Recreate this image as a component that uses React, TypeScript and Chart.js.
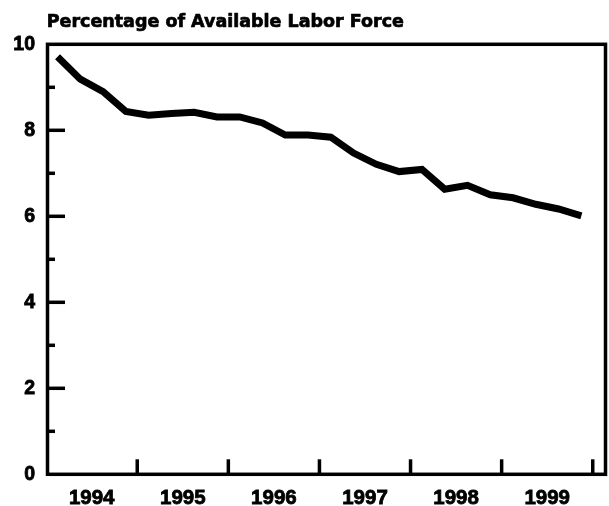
import React, { useEffect, useRef } from "react";
import { Chart, registerables } from "chart.js";

Chart.register(...registerables);

const TITLE = "Percentage of Available Labor Force";
const YEARS = ["1994", "1995", "1996", "1997", "1998", "1999"];
const QUARTERS = ["Q1", "Q2", "Q3", "Q4"];
const VALUES_1994 = [9.71, 9.19, 8.9, 8.44];
const VALUES_1995 = [8.35, 8.39, 8.42, 8.31];
const VALUES_1996 = [8.31, 8.17, 7.89, 7.89];
const VALUES_1997 = [7.84, 7.47, 7.21, 7.04];
const VALUES_1998 = [7.09, 6.63, 6.72, 6.5];
const VALUES_1999 = [6.43, 6.28, 6.17, 6.01];
const SERIES = [VALUES_1994, VALUES_1995, VALUES_1996, VALUES_1997, VALUES_1998, VALUES_1999];
const Y_TICK_LABELS = ["0", "2", "4", "6", "8", "10"];

const FONT = "'Liberation Sans', Arial, Helvetica, sans-serif";
const TITLE_FONT = "bold 17.5px 'DejaVu Sans', sans-serif";

export default function App() {
  const ref = useRef<HTMLCanvasElement | null>(null);

  useEffect(() => {
    if (!ref.current) return;
    const points: { x: number; y: number }[] = [];
    YEARS.forEach((_, yi) => {
      QUARTERS.forEach((_, qi) => {
        points.push({ x: yi + (qi + 0.5) / QUARTERS.length, y: SERIES[yi][qi] });
      });
    });

    const framePlugin = {
      id: "frame",
      beforeDatasetsDraw(chart: any) {
        const { ctx, chartArea } = chart;
        const { left, right, top, bottom } = chartArea;
        const xs = chart.scales.x;
        const ys = chart.scales.y;
        ctx.save();
        ctx.strokeStyle = "#000";
        ctx.lineWidth = 3.5;
        ctx.lineCap = "butt";
        ctx.strokeRect(left, top, right - left, bottom - top);
        ys.ticks.forEach((t: any) => {
          if (t.value <= ys.min || t.value >= ys.max) return;
          const py = ys.getPixelForValue(t.value);
          const major = Y_TICK_LABELS.includes(String(t.value));
          ctx.beginPath();
          ctx.moveTo(left, py);
          ctx.lineTo(left + (major ? 17.5 : 7.5), py);
          ctx.stroke();
        });
        for (let i = 1; i <= YEARS.length; i++) {
          if (i >= xs.max) continue;
          const px = xs.getPixelForValue(i);
          ctx.beginPath();
          ctx.moveTo(px, bottom);
          ctx.lineTo(px, bottom - 15);
          ctx.stroke();
        }
        ctx.restore();
      },
      afterDraw(chart: any) {
        const { ctx, chartArea } = chart;
        ctx.save();
        ctx.fillStyle = "#000";
        ctx.strokeStyle = "#000";
        ctx.lineWidth = 0.7;
        ctx.lineJoin = "round";
        ctx.font = TITLE_FONT;
        ctx.textAlign = "left";
        ctx.textBaseline = "alphabetic";
        ctx.fillText(TITLE, chartArea.left - 0.8, 26.7);
        ctx.strokeText(TITLE, chartArea.left - 0.8, 26.7);
        ctx.restore();
      },
    };

    const chart = new Chart(ref.current, {
      type: "line",
      data: {
        datasets: [
          {
            label: TITLE,
            data: points,
            borderColor: "#000",
            borderWidth: 7,
            pointRadius: 0,
            tension: 0,
            fill: false,
            borderCapStyle: "butt",
            borderJoinStyle: "miter",
          },
        ],
      },
      options: {
        animation: false,
        responsive: true,
        maintainAspectRatio: false,
        layout: { padding: { top: 44.3, right: 1, left: 0, bottom: 0 } },
        plugins: {
          legend: { display: false },
          tooltip: { enabled: false },
          title: { display: false },
        },
        scales: {
          x: {
            type: "linear",
            position: "bottom",
            min: 0.015,
            max: 6.14,
            grid: { display: false },
            border: { display: false },
            afterBuildTicks: (scale: any) => {
              scale.ticks = YEARS.map((_, i) => ({ value: i + 0.5 }));
            },
            afterFit: (scale: any) => {
              scale.height = 31.7;
            },
            ticks: {
              autoSkip: false,
              maxRotation: 0,
              padding: 4,
              color: "#000",
              textStrokeColor: "#000",
              textStrokeWidth: 0.8,
              font: { family: FONT, size: 20.5, weight: "bold" },
              callback: (v: any) => YEARS[Math.floor(Number(v))] ?? "",
            },
          },
          y: {
            min: 0,
            max: 10,
            grid: { display: false },
            border: { display: false },
            afterFit: (scale: any) => {
              scale.width = 47.5;
            },
            ticks: {
              stepSize: 1,
              autoSkip: false,
              padding: 4.5,
              color: "#000",
              textStrokeColor: "#000",
              textStrokeWidth: 0.8,
              font: { family: FONT, size: 19.5, weight: "bold" },
              callback: (v: any) => (Y_TICK_LABELS.includes(String(v)) ? String(v) : ""),
            },
          },
        },
      },
      plugins: [framePlugin],
    } as any);

    let alive = true;
    const fonts: any = (document as any).fonts;
    if (fonts && fonts.load) {
      Promise.all([
        fonts.load("bold 20px 'Liberation Sans'"),
        fonts.load(TITLE_FONT),
      ])
        .then(() => {
          if (alive) chart.update();
        })
        .catch(() => {});
    }
    return () => {
      alive = false;
      chart.destroy();
    };
  }, []);

  return (
    <div style={{ position: "absolute", left: 0, top: 0, width: 609, height: 506, background: "#fff" }}>
      <span style={{ position: "absolute", left: -9999, fontFamily: "'Liberation Sans'", fontWeight: "bold" }}>0</span>
      <canvas ref={ref} />
    </div>
  );
}
